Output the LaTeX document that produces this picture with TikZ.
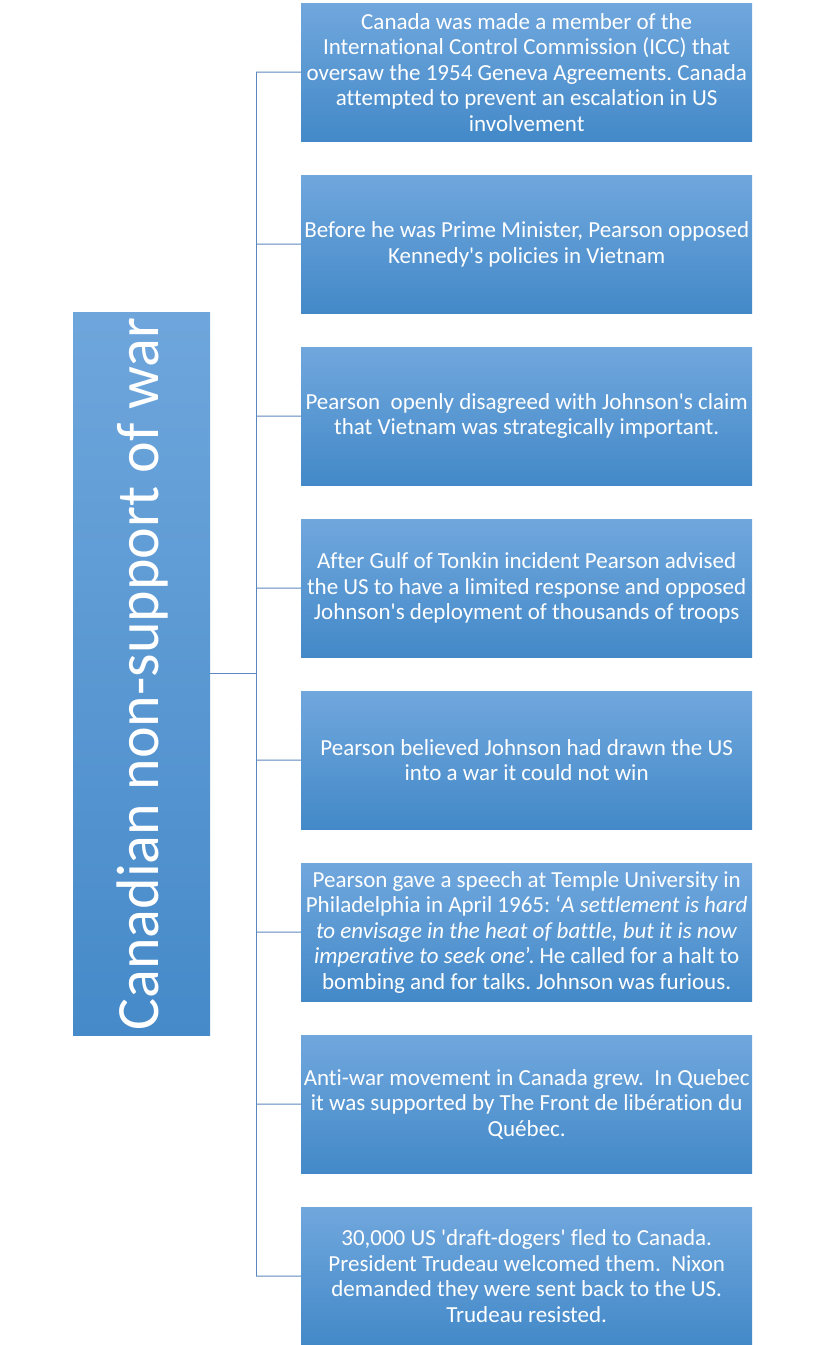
\documentclass[tikz,border=0pt]{standalone}
\usepackage{fontspec}
\setmainfont{Carlito}[Ligatures={TeXOff,NoCommon}]
\frenchspacing
\definecolor{boxtop}{RGB}{112,167,221}
\definecolor{boxbot}{RGB}{67,137,200}
\definecolor{ltop}{RGB}{110,166,220}
\definecolor{lbot}{RGB}{70,138,201}
\definecolor{conn}{RGB}{92,135,190}
\begin{document}
\begin{tikzpicture}[x=1pt,y=-1pt,
  itembox/.style={draw=none,top color=boxtop,bottom color=boxbot,minimum width=451pt,minimum height=138pt,inner sep=0pt,anchor=north west,text=white,align=center,font=\fontsize{23}{25.5}\selectfont},
  conline/.style={draw=conn,line width=1pt}]
\useasboundingbox (0,0) rectangle (824,1345);
\node[draw=none,top color=ltop,bottom color=lbot,minimum width=137pt,minimum height=723pt,inner sep=0pt,anchor=north west] (left) at (73,312) {};
\node[rotate=90,text=white,font=\fontsize{60}{66}\selectfont,anchor=base] (ltext) at (158,674) {Canadian non-support of war};
\node[itembox] (b1) at (301,3) {Canada was made a member of the\\International Control Commission (ICC) that\\oversaw the 1954 Geneva Agreements. Canada\\attempted to prevent an escalation in US\\involvement};
\node[itembox] (b2) at (301,175) {Before he was Prime Minister, Pearson opposed\\Kennedy's policies in Vietnam};
\node[itembox] (b3) at (301,347) {Pearson\ \ openly disagreed with Johnson's claim\\that Vietnam was strategically important.};
\node[itembox] (b4) at (301,519) {After Gulf of Tonkin incident Pearson advised\\the US to have a limited response and opposed\\Johnson's deployment of thousands of troops};
\node[itembox] (b5) at (301,691) {Pearson believed Johnson had drawn the US\\into a war it could not win};
\node[itembox] (b6) at (301,863) {Pearson gave a speech at Temple University in\\Philadelphia in April 1965: ‘\textit{A settlement is hard}\\\textit{to envisage in the heat of battle, but it is now}\\\textit{imperative to seek one}’. He called for a halt to\\bombing and for talks. Johnson was furious.};
\node[itembox] (b7) at (301,1035) {Anti-war movement in Canada grew.\ \ In Quebec\\it was supported by The Front de libération du\\Québec.};
\node[itembox] (b8) at (301,1207) {30,000 US 'draft-dogers' fled to Canada.\\President Trudeau welcomed them.\ \ Nixon\\demanded they were sent back to the US.\\Trudeau resisted.};
\foreach \i in {1,...,8}{\coordinate (j\i) at (256,{72+(\i-1)*172});}
\draw[conline] (j1) -- (j8);
\draw[conline] (left.east) -- (left.east -| j1);
\foreach \i in {1,...,8}{\draw[conline] (j\i) -- (b\i.west);}
\end{tikzpicture}
\end{document}
